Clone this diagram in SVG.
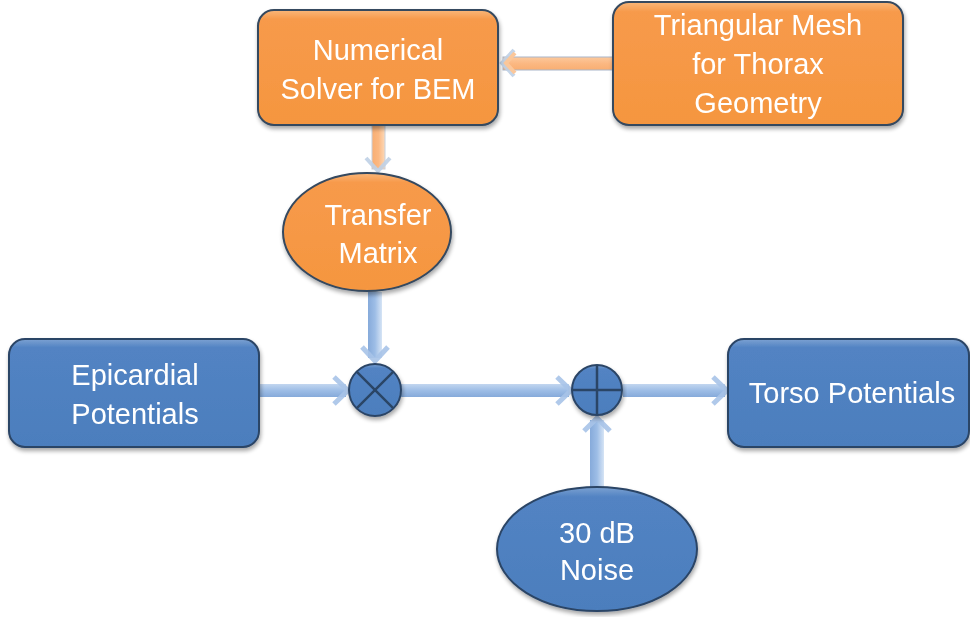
<svg xmlns="http://www.w3.org/2000/svg" width="970" height="617" viewBox="0 0 970 617">
<defs>
<linearGradient id="og" x1="0" y1="0" x2="0" y2="1">
<stop offset="0" stop-color="#FAB77A"/><stop offset="0.08" stop-color="#F79A4B"/><stop offset="1" stop-color="#F5963F"/>
</linearGradient>
<linearGradient id="bg" x1="0" y1="0" x2="0" y2="1">
<stop offset="0" stop-color="#7DA2D2"/><stop offset="0.08" stop-color="#5283C3"/><stop offset="1" stop-color="#4C7EBD"/>
</linearGradient>
<linearGradient id="bh" x1="0" y1="0" x2="0" y2="1">
<stop offset="0" stop-color="#C2D6EF"/><stop offset="0.5" stop-color="#9DBDE6"/><stop offset="1" stop-color="#86AADA"/>
</linearGradient>
<linearGradient id="bv" x1="0" y1="0" x2="1" y2="0">
<stop offset="0" stop-color="#86AADA"/><stop offset="0.5" stop-color="#9DBDE6"/><stop offset="1" stop-color="#D6E4F5"/>
</linearGradient>
<linearGradient id="oh" x1="0" y1="0" x2="0" y2="1">
<stop offset="0" stop-color="#FCC99D"/><stop offset="0.5" stop-color="#FBB882"/><stop offset="1" stop-color="#F9AE72"/>
</linearGradient>
<linearGradient id="ov" x1="0" y1="0" x2="1" y2="0">
<stop offset="0" stop-color="#F9AE72"/><stop offset="0.5" stop-color="#FBB882"/><stop offset="1" stop-color="#FDD9B8"/>
</linearGradient>
<filter id="sh" x="-10%" y="-10%" width="120%" height="125%">
<feGaussianBlur in="SourceAlpha" stdDeviation="2"/><feOffset dx="1" dy="3"/><feComponentTransfer><feFuncA type="linear" slope="0.35"/></feComponentTransfer>
<feMerge><feMergeNode/><feMergeNode in="SourceGraphic"/></feMerge>
</filter>
</defs>
<style>
.o{fill:url(#og);stroke:#34485F;stroke-width:2}
.b{fill:url(#bg);stroke:#2C4566;stroke-width:2}
.t{font-family:"Liberation Sans",Arial,sans-serif;font-size:29px;fill:#fff;text-anchor:middle}
.bhs{fill:url(#bh)}
.bvs{fill:url(#bv)}
.ohs{fill:url(#oh);stroke:#A9B6CA;stroke-width:1}
.ovs{fill:url(#ov);stroke:#C9CFD9;stroke-width:1}
.bch{fill:none;stroke:#A7C3E8;stroke-width:5;stroke-linejoin:miter;opacity:0.9}
.och{fill:none;stroke:#BFD0E6;stroke-width:4;stroke-linejoin:miter;opacity:0.9}
.och2{fill:none;stroke:#FBC79A;stroke-width:4;stroke-linejoin:miter}
.x{stroke:#2C4566;stroke-width:2.5;fill:none}
</style>
<g id="connectors">
<!-- mesh -> solver -->
<rect class="ohs" x="503" y="57" width="110" height="13"/>
<polyline class="och" points="514,50 502,63 514,76"/>
<polyline class="och2" points="515,53 506,63 515,73"/>
<!-- solver -> transfer -->
<rect class="ovs" x="372" y="125" width="13" height="44"/>
<polyline class="och" points="366,158 378,171 390,158"/>
<!-- transfer -> multiply -->
<rect class="bvs" x="368" y="292" width="14" height="66"/>
<polyline class="bch" points="362,347 375,361 388,347"/>
<!-- epicardial -> multiply -->
<rect class="bhs" x="260" y="384" width="86" height="13"/>
<polyline class="bch" points="334,377 348,390.5 334,404"/>
<!-- multiply -> plus -->
<rect class="bhs" x="401" y="384" width="168" height="13"/>
<polyline class="bch" points="557,377 571,390.5 557,404"/>
<!-- plus -> torso -->
<rect class="bhs" x="623" y="384" width="102" height="13"/>
<polyline class="bch" points="713,377 727,390.5 713,404"/>
<!-- noise -> plus -->
<rect class="bvs" x="590" y="420" width="14" height="67"/>
<polyline class="bch" points="584,431 597,418 610,431"/>
</g>
<g id="solver" filter="url(#sh)">
<rect class="o" x="258" y="10" width="240" height="115" rx="16"/>
<text class="t" x="378" y="60">Numerical</text>
<text class="t" x="378" y="99">Solver for BEM</text>
</g>
<g id="mesh" filter="url(#sh)">
<rect class="o" x="613" y="2" width="290" height="123" rx="16"/>
<text class="t" x="758" y="35">Triangular Mesh</text>
<text class="t" x="758" y="74">for Thorax</text>
<text class="t" x="758" y="113">Geometry</text>
</g>
<g id="transfer" filter="url(#sh)">
<ellipse class="o" cx="367" cy="232" rx="84" ry="59"/>
<text class="t" x="378" y="225">Transfer</text>
<text class="t" x="378" y="263">Matrix</text>
</g>
<g id="epicardial" filter="url(#sh)">
<rect class="b" x="9" y="339" width="250" height="108" rx="16"/>
<text class="t" x="135" y="385">Epicardial</text>
<text class="t" x="135" y="424">Potentials</text>
</g>
<g id="multiply" filter="url(#sh)">
<circle class="b" cx="375" cy="390" r="26"/>
<path class="x" d="M356.6,371.6 L393.4,408.4 M393.4,371.6 L356.6,408.4"/>
</g>
<g id="plus" filter="url(#sh)">
<circle class="b" cx="597" cy="390" r="25"/>
<path class="x" d="M572,390 L622,390 M597,365 L597,415"/>
</g>
<g id="torso" filter="url(#sh)">
<rect class="b" x="728" y="339" width="241" height="108" rx="16"/>
<text class="t" x="852" y="403">Torso Potentials</text>
</g>
<g id="noise" filter="url(#sh)">
<ellipse class="b" cx="597" cy="549" rx="100" ry="62"/>
<text class="t" x="597" y="543">30 dB</text>
<text class="t" x="597" y="580">Noise</text>
</g>
</svg>
